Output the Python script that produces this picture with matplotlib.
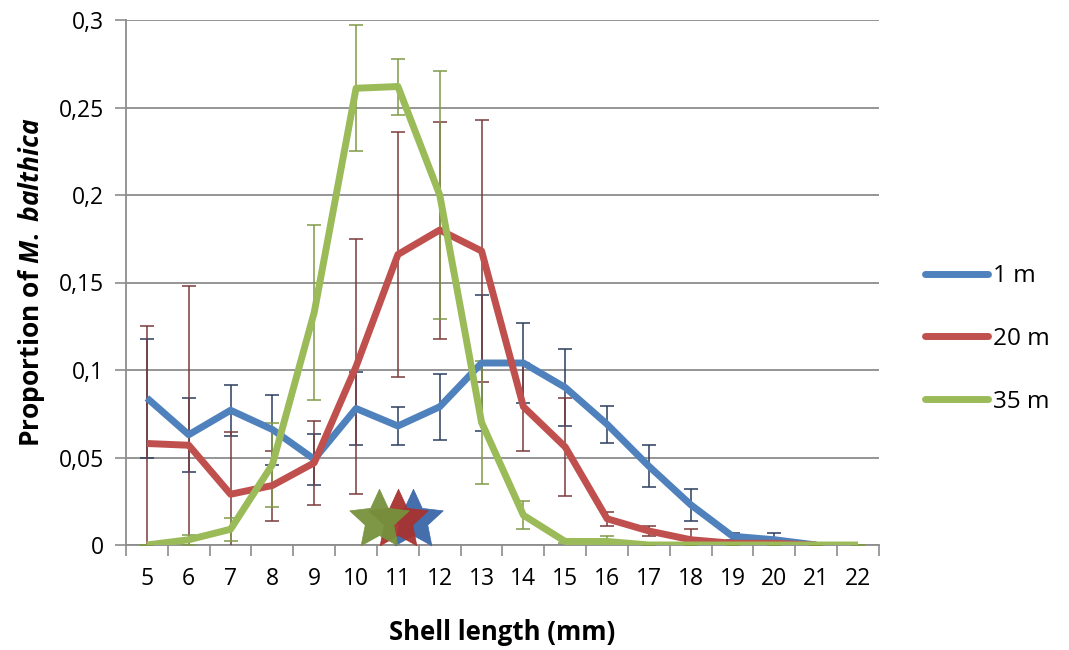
import numpy as np
import matplotlib
matplotlib.use("Agg")
import matplotlib.pyplot as plt
from matplotlib.path import Path

plt.rcParams['font.family'] = ['Open Sans', 'DejaVu Sans']
plt.rcParams['mathtext.fontset'] = 'custom'
plt.rcParams['mathtext.it'] = 'Open Sans:italic:bold'
plt.rcParams['mathtext.rm'] = 'Open Sans:bold'

# shell length classes (mm)
lengths = list(range(5, 23))

# mean proportion per depth and standard error
prop_1m = [0.084, 0.063, 0.077, 0.066, 0.049, 0.078, 0.068, 0.079, 0.104, 0.104,
           0.090, 0.069, 0.045, 0.023, 0.005, 0.003, 0.000]
err_1m = [0.034, 0.021, 0.0145, 0.020, 0.0145, 0.021, 0.011, 0.019, 0.039, 0.023,
          0.022, 0.0105, 0.012, 0.009, 0.002, 0.004, 0.0]

prop_20m = [0.058, 0.057, 0.029, 0.034, 0.047, 0.102, 0.166, 0.180, 0.168, 0.079,
            0.056, 0.015, 0.008, 0.003, 0.001, 0.001, 0.000]
err_20m = [0.067, 0.091, 0.0356, 0.020, 0.024, 0.073, 0.070, 0.062, 0.075, 0.025,
           0.028, 0.004, 0.003, 0.006, 0.0, 0.0, 0.0]

prop_35m = [0.000, 0.003, 0.009, 0.046, 0.133, 0.261, 0.262, 0.200, 0.070, 0.017,
            0.002, 0.002, 0.000, 0.000, 0.000, 0.000, 0.000, 0.000]
err_35m = [0.0, 0.003, 0.0065, 0.024, 0.050, 0.036, 0.016, 0.071, 0.035, 0.008,
           0.001, 0.003, 0.0, 0.0, 0.0, 0.0, 0.0, 0.0]

# mean shell length per depth (stars)
mean_len = {'1 m': 11.35, '20 m': 11.0, '35 m': 10.55}
star_y = 0.0145

series = [
    ('1 m', prop_1m, err_1m, '#4F81BD', '#2B3F5E'),
    ('20 m', prop_20m, err_20m, '#C0504D', '#7A3B3B'),
    ('35 m', prop_35m, err_35m, '#9BBB59', '#7F9A48'),
]

# a slightly fatter five-point star than the built-in '*'
star = Path.unit_regular_star(5, innerCircle=0.48)

fig = plt.figure(figsize=(10.69, 6.5), dpi=100)
ax = fig.add_axes([126 / 1069, 1 - 545 / 650, 753 / 1069, 525 / 650])

for label, vals, err, col, ecol in series:
    x = lengths[:len(vals)]
    ax.errorbar(x, vals, yerr=err, fmt='none', ecolor=ecol, elinewidth=1.1,
                capsize=5, capthick=1.1, zorder=3)
    ax.plot(x, vals, color=col, lw=5, solid_joinstyle='round',
            solid_capstyle='butt', label=label, zorder=4)

for label, col in [('1 m', '#3A66A8'), ('20 m', '#A8322F'), ('35 m', '#76923C')]:
    ax.plot(mean_len[label], star_y, marker=star, ms=45, color=col,
            mec=col, mew=0.5, alpha=0.95, zorder=5, clip_on=False)

ax.set_xlim(4.5, 22.5)
ax.set_ylim(0, 0.3)

# category-style x axis: tick marks between classes, labels centred
ax.set_xticks(np.arange(4.5, 23, 1))
ax.set_xticklabels([])
ax.set_xticks(lengths, minor=True)
ax.set_xticklabels([str(v) for v in lengths], minor=True)
ax.tick_params(axis='x', which='major', length=8, width=1.2, color='#8c8c8c')
ax.tick_params(axis='x', which='minor', length=0, pad=16, labelsize=16.5)

yt = np.arange(0, 0.31, 0.05)
ax.set_yticks(yt)
ax.set_yticklabels(['0', '0,05', '0,1', '0,15', '0,2', '0,25', '0,3'])
ax.tick_params(axis='y', length=8, width=1.2, color='#8c8c8c', pad=8, labelsize=16.5)

ax.grid(axis='y', color='#8c8c8c', lw=1.3)
ax.set_axisbelow(True)
for s in ['top', 'right']:
    ax.spines[s].set_visible(False)
for s in ['left', 'bottom']:
    ax.spines[s].set_color('#8c8c8c')
    ax.spines[s].set_linewidth(1.3)

ax.set_xlabel('Shell length (mm)', fontsize=18.5, fontweight='bold', labelpad=20)
ax.set_ylabel(r'Proportion of $\mathit{M.}$ $\mathit{balthica}$', fontsize=19,
              fontweight='bold', labelpad=8)

leg = ax.legend(loc='center left', bbox_to_anchor=(925 / 1069, 1 - 339 / 650),
                bbox_transform=fig.transFigure, frameon=False, fontsize=17.5,
                handlelength=2.6, handletextpad=0.2, labelspacing=1.6,
                borderpad=0, borderaxespad=0)
for h in leg.get_lines():
    h.set_solid_capstyle('round')

fig.savefig('out.png', dpi=100)
